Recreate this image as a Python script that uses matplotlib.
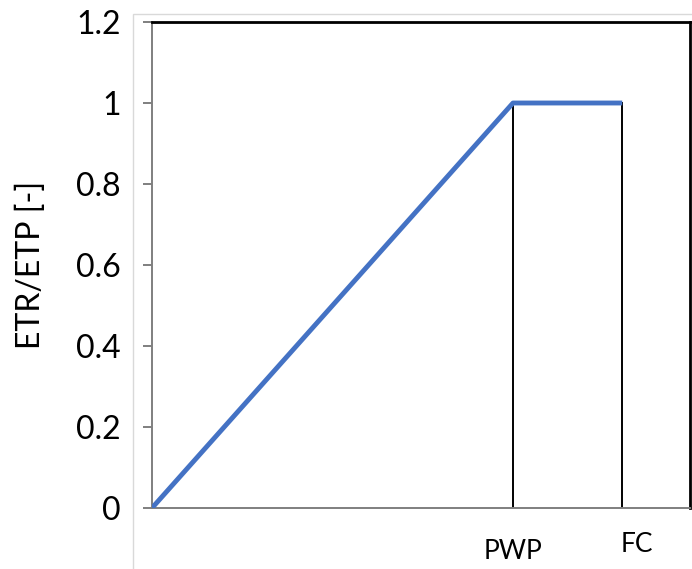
import matplotlib
matplotlib.use("Agg")
import matplotlib.pyplot as plt
from matplotlib.patches import Rectangle

plt.rcParams['font.family'] = ['Lato', 'DejaVu Sans']

# data
pwp = 0.671
fc = 0.874
x_curve = [0, pwp, fc]
y_curve = [0, 1, 1]
y_ticks = [0, 0.2, 0.4, 0.6, 0.8, 1, 1.2]
y_ticklabels = ["0", "0.2", "0.4", "0.6", "0.8", "1", "1.2"]
x_labels = ["PWP", "FC"]
x_label_pos = [0.671, 0.901]
x_label_y = [-0.0905, -0.076]

W, H = 692, 569
fig = plt.figure(figsize=(W/100, H/100), dpi=100)
# faint outer chart-area frame
fig.patches.append(Rectangle((133/W, -0.01), 1.0, 1 - 14/H + 0.01, transform=fig.transFigure,
                             fill=False, edgecolor='#d9d9d9', linewidth=1))
ax = fig.add_axes([152/W, 1 - 508/H, (690-152)/W, (508-22)/H])

ax.plot(x_curve, y_curve, color='#4472C4', linewidth=3.5, solid_capstyle='butt', zorder=3)
ax.plot([pwp, pwp], [0, 1], color='black', linewidth=1.4, zorder=2)
ax.plot([fc, fc], [0, 1], color='black', linewidth=1.4, zorder=2)

ax.set_xlim(0, 1)
ax.set_ylim(0, 1.2)
ax.set_yticks(y_ticks)
ax.set_yticklabels(y_ticklabels, fontsize=23)
ax.set_xticks([])
ax.tick_params(axis='y', direction='out', length=6.5, width=1.4, color='#7f7f7f', pad=16)

for s in ['left', 'bottom']:
    ax.spines[s].set_color('#7f7f7f')
    ax.spines[s].set_linewidth(1.4)
for s in ['top', 'right']:
    ax.spines[s].set_color('black')
    ax.spines[s].set_linewidth(2)

ax.set_ylabel("ETR/ETP [-]", fontsize=23)
ax.yaxis.set_label_coords(-0.197, 0.5)

for lbl, xp, yp in zip(x_labels, x_label_pos, x_label_y):
    ax.text(xp, yp, lbl, transform=ax.get_xaxis_transform(), ha='center', va='center', fontsize=19)

fig.savefig("out.png", dpi=100)
